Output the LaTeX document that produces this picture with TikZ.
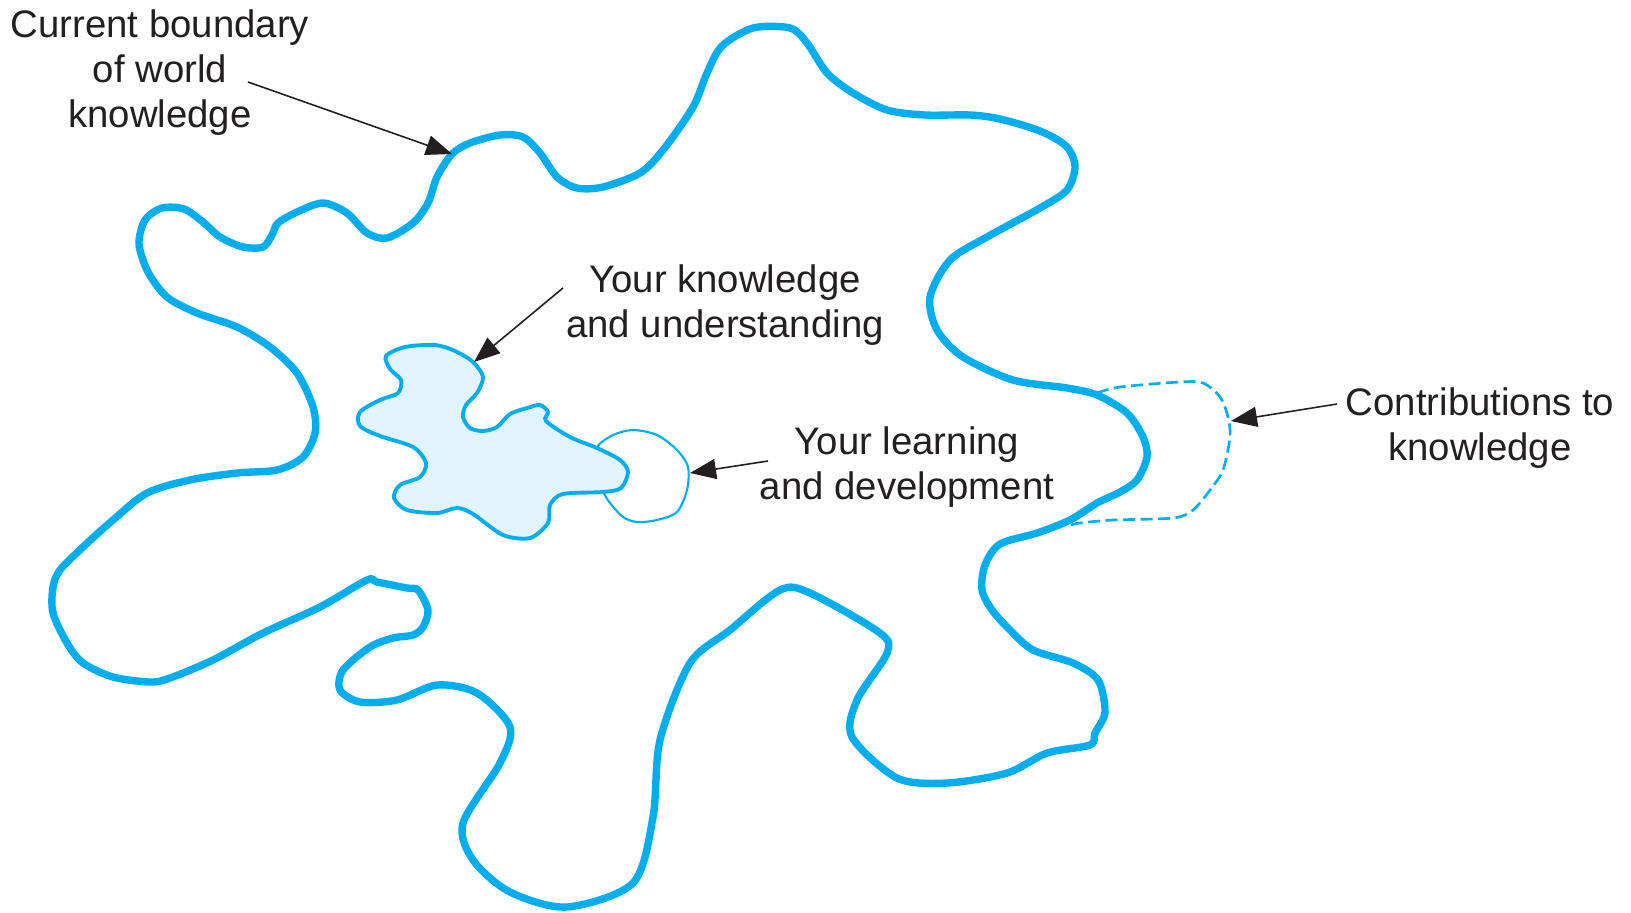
\documentclass[tikz,border=0pt]{standalone}
\usepackage{fontspec}
\setmainfont{Liberation Sans}
\usetikzlibrary{arrows.meta}
\definecolor{kcyan}{RGB}{0,174,239}
\definecolor{kfill}{RGB}{225,243,252}
\definecolor{ktext}{RGB}{35,31,32}
\begin{document}
\begin{tikzpicture}[x=0.01cm,y=-0.01cm,
  boundary/.style={draw=kcyan,line width=2.1pt,line join=round},
  yours/.style={draw=kcyan,fill=kfill,line width=1.1pt},
  growth/.style={draw=kcyan,line width=0.6pt},
  contrib/.style={draw=kcyan,line width=0.75pt,dash pattern=on 0.12cm off 0.055cm},
  pointer/.style={draw=ktext,line width=0.45pt,-{Triangle[length=0.26cm,width=0.2cm]}},
  labeltext/.style={align=center,inner sep=0pt,text=ktext,font=\fontsize{10.9}{12.8}\selectfont}]
\useasboundingbox (0,0) rectangle (1631,912);

% outer boundary of world knowledge
\draw[boundary] plot[smooth cycle,tension=0.5] coordinates {
 (139,244) (145,220) (162,208) (184,209) (203,222) (220,237) (243,247) (263,247) (272,235)
 (278,223) (297,212) (323,203) (347,213) (367,233) (387,238) (413,223) (428,203)
 (437,177) (452,154) (470,143) (500,135) (523,137) (540,153) (557,177) (577,188)
 (603,187) (640,173) (663,150) (693,107) (707,73) (722,46) (753,28) (790,28)
 (807,43) (827,73) (853,93) (887,110) (925,115) (970,115) (1000,119) (1040,131)
 (1066,146) (1075,166) (1067,190) (1040,208) (987,237) (950,260) (930,297)
 (937,330) (963,357) (1013,380) (1067,388) (1097,395) (1127,413) (1143,437)
 (1147,457) (1137,480) (1120,492) (1097,503) (1070,520) (1037,533) (1000,544)
 (985,565) (982,590) (992,610) (1010,630) (1033,650) (1073,663) (1098,680)
 (1105,712) (1095,733) (1090,745) (1047,753) (1007,773) (947,783) (897,778)
 (852,737) (857,700) (887,653) (880,633) (810,593) (780,590) (730,630) (690,663)
 (660,740) (653,817) (633,883) (567,907) (510,892) (473,860) (463,823) (500,763)
 (510,727) (477,693) (437,685) (397,700) (360,702) (340,690) (343,670) (370,647)
 (393,638) (413,635) (423,627) (428,610) (418,590) (407,588) (377,582) (367,580)
 (320,607) (263,633) (213,660) (170,678) (150,682) (113,677) (83,663) (67,643)
 (53,613) (53,587) (60,570) (83,547) (113,520) (147,493) (190,480) (237,473)
 (277,470) (303,457) (315,433) (313,407) (297,373) (270,347) (237,327) (197,313)
 (167,297) (148,272)};

% contributions to knowledge (dashed)
\draw[contrib] plot[smooth,tension=0.5] coordinates {
 (1097,393) (1120,387) (1180,382) (1203,383) (1220,397) (1228,417) (1230,437)
 (1223,470) (1210,490) (1193,510) (1173,518) (1113,520) (1080,523) (1071,525)};

% your learning and development
\draw[growth] plot[smooth cycle,tension=0.5] coordinates {
 (597,447) (613,435) (633,430) (657,435) (677,450) (688,467) (687,490) (677,512)
 (657,520) (637,522) (623,517) (610,503) (603,492) (590,470)};

% your knowledge and understanding
\draw[yours] plot[smooth cycle,tension=0.5] coordinates {
 (386,356) (405,347) (435,345) (455,351) (473,362) (483,377) (477,393) (466,405)
 (463,417) (470,428) (483,431) (497,427) (510,414) (527,408) (540,405) (548,412)
 (546,421) (570,437) (597,448) (620,460) (628,472) (621,488) (603,492) (563,494)
 (550,505) (548,523) (530,538) (503,535) (473,514) (457,508) (437,513) (407,510)
 (394,498) (400,485) (420,477) (426,463) (413,447) (380,436) (360,426) (360,412)
 (380,400) (398,393) (401,380) (390,369)};

% labels
\node[labeltext,anchor=north] (world) at (160,9) {Current boundary\\of world\\knowledge};
\node[labeltext,anchor=north] (know) at (725,264) {Your knowledge\\and understanding};
\node[labeltext,anchor=north] (learn) at (907,426) {Your learning\\and development};
\node[labeltext,anchor=north] (contr) at (1480,387) {Contributions to\\knowledge};

% arrows
\coordinate (worldS) at (248,82);
\coordinate (worldT) at (452,154);
\coordinate (knowS) at (563,288);
\coordinate (knowT) at (474,362);
\coordinate (learnS) at (768,461);
\coordinate (learnT) at (690,473);
\coordinate (contrS) at (1337,404);
\coordinate (contrT) at (1231,421);
\draw[pointer] (worldS) -- (worldT);
\draw[pointer] (knowS) -- (knowT);
\draw[pointer] (learnS) -- (learnT);
\draw[pointer] (contrS) -- (contrT);
\end{tikzpicture}
\end{document}
